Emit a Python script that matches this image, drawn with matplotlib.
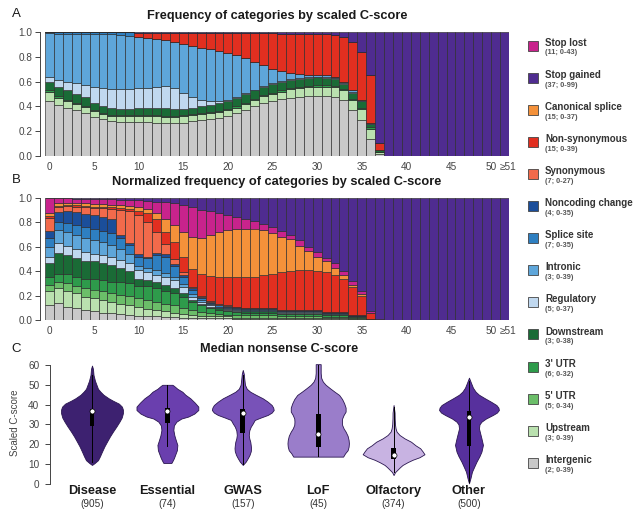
import numpy as np
import matplotlib
matplotlib.use("Agg")
import matplotlib.pyplot as plt
from matplotlib.patches import Rectangle
from matplotlib.transforms import ScaledTranslation

plt.rcParams["font.family"] = ["Liberation Sans", "DejaVu Sans"]

# ---- categories (legend order, top to bottom) ----
categories = ["Stop lost", "Stop gained", "Canonical splice", "Non-synonymous",
              "Synonymous", "Noncoding change", "Splice site", "Intronic",
              "Regulatory", "Downstream", "3' UTR", "5' UTR", "Upstream", "Intergenic"]
category_notes = ["(11; 0-43)", "(37; 0-99)", "(15; 0-37)", "(15; 0-39)", "(7; 0-27)",
                  "(4; 0-35)", "(7; 0-35)", "(3; 0-39)", "(5; 0-37)", "(3; 0-38)",
                  "(6; 0-32)", "(5; 0-34)", "(3; 0-39)", "(2; 0-39)"]
category_colors = ["#c8238c", "#4f2c90", "#f4913a", "#e12f20", "#f26a4b", "#1b4e9a",
                   "#2e7fc1", "#5ea6da", "#c0d8ef", "#1a6b36", "#2e9b4b", "#6bbe69",
                   "#bae1af", "#c9c9c9"]
# bars are stacked from the bottom in this order
stack_order = ["Intergenic", "Upstream", "5' UTR", "3' UTR", "Downstream", "Regulatory",
               "Intronic", "Splice site", "Noncoding change", "Synonymous",
               "Non-synonymous", "Canonical splice", "Stop lost", "Stop gained"]

score_bins = list(range(52))
bin_labels = ["0", "5", "10", "15", "20", "25", "30", "35", "40", "45", "50", "\u226551"]
bin_label_pos = [0, 5, 10, 15, 20, 25, 30, 35, 40, 45, 50, 51]

# ---- A: frequency of categories per scaled C-score bin ----
a_intergenic = [.445, .41, .39, .37, .345, .315, .295, .28, .275, .275,
                .275, .275, .27, .265, .265, .27, .28, .29, .295, .305,
                .32, .345, .37, .40, .425, .445, .46, .47, .475, .48,
                .48, .48, .475, .45, .37, .29, .14, .02,
                0, 0, 0, 0, 0, 0, 0, 0, 0, 0, 0, 0, 0, 0]
a_upstream = [.075, .06, .05, .05, .05, .05, .04, .04, .045, .045,
              .045, .045, .05, .05, .05, .05, .05, .045, .05, .05,
              .05, .045, .05, .05, .055, .055, .06, .07, .075, .075,
              .08, .08, .08, .08, .08, .09, .08, .015,
              0, 0, 0, 0, 0, 0, 0, 0, 0, 0, 0, 0, 0, 0]
a_utr5 = [0] * 52
a_utr3 = [.01, .01, .01, .01, .01, .01, .01, .01, .01, .01,
          .01, .01, .01, .01, .01, .01, .01, .01, .01, .01,
          .01, .01, .01, .01, .01, .01, .01, .01, .01, .01,
          .01, .01, .01, .01, .01, .01, .01, 0,
          0, 0, 0, 0, 0, 0, 0, 0, 0, 0, 0, 0, 0, 0]
a_downstream = [.07, .075, .085, .07, .07, .055, .055, .055, .05, .05,
                .055, .06, .06, .06, .055, .05, .05, .055, .055, .065,
                .065, .07, .07, .07, .07, .07, .07, .065, .065, .065,
                .065, .06, .06, .04, .05, .05, .03, .01,
                0, 0, 0, 0, 0, 0, 0, 0, 0, 0, 0, 0, 0, 0]
a_regulatory = [.035, .055, .065, .09, .10, .125, .145, .155, .16, .16,
                .16, .16, .17, .18, .17, .13, .085, .05, .03, .015,
                .005, .005, .005, .005, .005, .005, .005, .005, .005, .005,
                .005, .005, .005, .005, .005, .005, .002, 0,
                0, 0, 0, 0, 0, 0, 0, 0, 0, 0, 0, 0, 0, 0]
a_intronic = [.355, .375, .385, .395, .41, .43, .435, .44, .435, .43,
              .415, .405, .385, .37, .37, .395, .415, .425, .42, .40,
              .38, .34, .285, .225, .165, .115, .08, .05, .03, .02,
              .015, .015, .01, .015, .015, .005, .003, 0,
              0, 0, 0, 0, 0, 0, 0, 0, 0, 0, 0, 0, 0, 0]
a_splice = [.01, .015, .015, .015, .015, .015, .02, .02, .025, .03,
            0, 0, 0, 0, 0, 0, 0, 0, 0, 0, 0, 0, 0, 0, 0, 0, 0, 0, 0, 0,
            0, 0, 0, 0, 0, 0, 0, 0, 0, 0, 0, 0, 0, 0, 0, 0, 0, 0, 0, 0, 0, 0]
a_noncoding = [0] * 52
a_synonymous = [0] * 52
a_nonsyn = [0, 0, 0, 0, 0, 0, 0, 0, 0, 0,
            .035, .04, .05, .06, .075, .09, .105, .12, .135, .145,
            .16, .175, .20, .23, .26, .29, .30, .315, .325, .325,
            .325, .33, .335, .357, .39, .39, .385, .06,
            0, 0, 0, 0, 0, 0, 0, 0, 0, 0, 0, 0, 0, 0]
a_canonical = [0] * 52
a_stop_lost = [0] * 52
a_stop_gained = [0, 0, 0, 0, 0, 0, 0, 0, 0, 0,
                 .005, .005, .005, .005, .005, .005, .005, .005, .005, .01,
                 .01, .01, .01, .01, .01, .01, .015, .015, .015, .02,
                 .02, .02, .025, .043, .08, .16, .35, .895,
                 1, 1, 1, 1, 1, 1, 1, 1, 1, 1, 1, 1, 1, 1]

# ---- B: normalized frequency of categories per bin ----
b_intergenic = [.12, .14, .11, .10, .085, .07, .06, .055, .05, .04,
                .035, .03, .03, .025, .025, .02, .015, .015, .015, .015,
                .015, .01, .01, .01, .01, .01, .01, .01, .01, .01,
                .01, .008, .008, .008, .005, .005, .002, 0,
                0, 0, 0, 0, 0, 0, 0, 0, 0, 0, 0, 0, 0, 0]
b_upstream = [.115, .12, .13, .12, .105, .11, .105, .095, .085, .08,
              .07, .06, .055, .045, .035, .03, .03, .02, .015, .015,
              .015, .01, .01, .01, .01, .01, .01, .01, .01, .01,
              .01, .007, .007, .007, .005, .005, .002, 0,
              0, 0, 0, 0, 0, 0, 0, 0, 0, 0, 0, 0, 0, 0]
b_utr5 = [.055, .055, .06, .055, .07, .07, .07, .07, .07, .075,
          .075, .075, .065, .065, .06, .05, .035, .03, .025, .02,
          .015, .02, .02, .02, .02, .02, .01, .01, .01, .01,
          .01, .01, .01, .01, .005, .005, .002, 0,
          0, 0, 0, 0, 0, 0, 0, 0, 0, 0, 0, 0, 0, 0]
b_utr3 = [.06, .065, .075, .08, .08, .085, .09, .095, .105, .105,
          .10, .11, .11, .105, .10, .09, .07, .06, .045, .035,
          .03, .025, .02, .02, .02, .02, .02, .02, .02, .02,
          .02, .015, .015, .015, .01, .01, .002, 0,
          0, 0, 0, 0, 0, 0, 0, 0, 0, 0, 0, 0, 0, 0]
b_downstream = [.12, .17, .155, .15, .145, .145, .14, .135, .12, .105,
                .06, .055, .055, .05, .04, .03, .015, .01, .01, .01,
                .01, .01, .01, .01, .01, .01, .01, .01, .01, .01,
                .01, .01, .01, .01, .005, .005, .002, 0,
                0, 0, 0, 0, 0, 0, 0, 0, 0, 0, 0, 0, 0, 0]
b_regulatory = [.05, .08, .075, .075, .075, .065, .065, .07, .06, .06,
                .07, .06, .055, .06, .065, .05, .025, .01, .01, .005,
                .005, .005, .005, .005, .005, .005, .005, .005, .005, .005,
                .005, .003, .003, .003, .002, .002, 0, 0,
                0, 0, 0, 0, 0, 0, 0, 0, 0, 0, 0, 0, 0, 0]
b_intronic = [.075, .105, .115, .115, .115, .11, .11, .095, .095, .08,
              .035, .035, .04, .035, .03, .025, .02, .015, .01, .01,
              .01, .01, .005, .005, .005, .005, .005, .005, .005, .005,
              .005, .003, .003, .003, .002, .002, 0, 0,
              0, 0, 0, 0, 0, 0, 0, 0, 0, 0, 0, 0, 0, 0]
b_splice = [.075, .065, .075, .085, .09, .095, .09, .095, .085, .07,
            .075, .08, .12, .135, .085, .06, .04, .02, .01, .01,
            .01, .01, .01, .01, .01, .01, .005, .005, .005, .005,
            .005, .004, .004, .004, .002, .002, 0, 0,
            0, 0, 0, 0, 0, 0, 0, 0, 0, 0, 0, 0, 0, 0]
b_noncoding = [.06, .085, .10, .105, .105, .11, .115, .115, .03, .015,
               .02, .015, .02, .02, .02, .015, .01, .01, .01, .005,
               .005, .005, .005, .005, .005, .005, .005, .005, .005, .005,
               .005, .003, .003, .003, .002, .002, 0, 0,
               0, 0, 0, 0, 0, 0, 0, 0, 0, 0, 0, 0, 0, 0]
b_synonymous = [.105, .04, .04, .045, .055, .06, .07, .085, .20, .26,
                .32, .28, .17, .08, .04, .02, .01, .005, .005, .005,
                .005, .005, .005, .005, .005, .005, .005, .005, .005, .005,
                .005, .003, .003, .003, .002, .002, 0, 0,
                0, 0, 0, 0, 0, 0, 0, 0, 0, 0, 0, 0, 0, 0]
b_nonsyn = [.015, .01, .005, .01, .01, .01, .015, .015, .02, .02,
            .035, .075, .11, .10, .14, .13, .15, .185, .205, .225,
            .23, .24, .25, .255, .265, .28, .31, .32, .325, .325,
            .315, .324, .304, .274, .23, .16, .045, .003,
            0, 0, 0, 0, 0, 0, 0, 0, 0, 0, 0, 0, 0, 0]
b_canonical = [.03, .02, .02, .02, .02, .02, .02, .02, .02, .025,
               .03, .035, .05, .11, .14, .20, .26, .29, .34, .365,
               .385, .395, .40, .395, .375, .33, .285, .255, .20, .155,
               .12, .09, .06, .03, .02, .01, .005, 0,
               0, 0, 0, 0, 0, 0, 0, 0, 0, 0, 0, 0, 0, 0]
b_stop_lost = [.12, .045, .04, .035, .04, .04, .04, .045, .045, .05,
               .055, .065, .09, .135, .175, .22, .245, .235, .19, .155,
               .125, .10, .08, .06, .045, .05, .05, .04, .045, .035,
               .035, .03, .035, .035, .03, .025, .01, .002,
               0, 0, 0, 0, 0, 0, 0, 0, 0, 0, 0, 0, 0, 0]
b_stop_gained = [0, 0, 0, .005, .005, .01, .01, .01, .015, .015,
                 .02, .025, .03, .035, .045, .06, .075, .095, .11, .125,
                 .14, .155, .17, .19, .215, .24, .27, .30, .345, .40,
                 .445, .49, .535, .595, .68, .765, .93, .995,
                 1, 1, 1, 1, 1, 1, 1, 1, 1, 1, 1, 1, 1, 1]

freq_a = {"Intergenic": a_intergenic, "Upstream": a_upstream, "5' UTR": a_utr5,
          "3' UTR": a_utr3, "Downstream": a_downstream, "Regulatory": a_regulatory,
          "Intronic": a_intronic, "Splice site": a_splice, "Noncoding change": a_noncoding,
          "Synonymous": a_synonymous, "Non-synonymous": a_nonsyn,
          "Canonical splice": a_canonical, "Stop lost": a_stop_lost,
          "Stop gained": a_stop_gained}
freq_b = {"Intergenic": b_intergenic, "Upstream": b_upstream, "5' UTR": b_utr5,
          "3' UTR": b_utr3, "Downstream": b_downstream, "Regulatory": b_regulatory,
          "Intronic": b_intronic, "Splice site": b_splice, "Noncoding change": b_noncoding,
          "Synonymous": b_synonymous, "Non-synonymous": b_nonsyn,
          "Canonical splice": b_canonical, "Stop lost": b_stop_lost,
          "Stop gained": b_stop_gained}

# ---- C: median nonsense C-score per gene set ----
gene_sets = ["Disease", "Essential", "GWAS", "LoF", "Olfactory", "Other"]
gene_counts = ["(905)", "(74)", "(157)", "(45)", "(374)", "(500)"]
violin_colors = ["#3d2170", "#6a3fae", "#7852b8", "#9a7dca", "#c8b3e2", "#57309d"]

# density outline: score levels and relative half-widths
disease_y = [9.6, 10.5, 12, 14, 16.3, 19, 21.3, 24, 26.4, 29, 31.4, 33.5, 35.7, 37.5, 39,
             40.5, 42, 43.2, 45, 46.5, 48, 50, 52, 55, 58, 59.7]
disease_w = [0, 2.5, 6, 8, 10, 12.5, 15, 18, 21, 24.5, 27.5, 29.8, 31, 31, 30,
             27, 21, 16.7, 11.5, 8.5, 6, 4.5, 3, 1.5, 1, 0]
essential_y = [10.6, 11.5, 13, 15, 17, 19.7, 22, 24.5, 27.2, 29.5, 31.4, 33, 34, 35.5,
               37.3, 39, 41, 43.2, 45, 46.5, 48, 49.5, 50]
essential_w = [4, 5, 6.5, 8, 9.5, 10, 8.5, 7, 6, 6.5, 9, 14, 21, 27,
               31, 31, 27.5, 23, 18, 15, 10, 6.5, 5]
gwas_y = [9.6, 11.3, 13, 14.6, 16.5, 18, 19.5, 21.3, 23, 24.7, 27, 28.9, 30.5, 32.3,
          33.5, 34.8, 36, 37.3, 38.5, 39.8, 41.5, 43.2, 45, 46.5, 48, 50, 53, 55.5, 57.5]
gwas_w = [0, 3, 5, 6.7, 8, 8.3, 8, 7.5, 6.5, 6, 6.5, 8, 10, 12,
          18, 25, 29, 31, 30.5, 29, 25, 20, 13, 7.5, 4, 2.2, 1.5, 1, 0]
lof_y = [13.8, 15.5, 17, 18.8, 20.5, 22.2, 24.3, 26.4, 28, 29.8, 31.5, 33, 34.8, 36.5,
         38.5, 40.7, 42.8, 44.9, 46.5, 48.2, 50, 51.6, 53.5, 56, 58.5, 60.4]
lof_w = [25, 27, 29.5, 30.5, 30.8, 30.5, 29.5, 27.5, 25.5, 24, 23.8, 24, 25.5, 27.5,
         27.5, 26, 24, 21, 16.5, 12, 7.5, 4.7, 3, 2.5, 2.5, 2.5]
olfactory_y = [4.5, 6, 7, 8.5, 9.6, 11, 12.2, 13.5, 15, 16.5, 18, 19.5, 21.3, 23, 24.7,
               26.4, 28, 30, 33, 36, 39.8]
olfactory_w = [0, 1.5, 3.5, 6.5, 9, 14, 19, 26, 31, 29, 26.7, 22, 17.5, 11, 6,
               3, 2, 1.4, 1.1, 1, 0]
other_y = [0.3, 3, 6.2, 9, 11.2, 14, 16.3, 19.7, 23, 26, 28, 30, 31.4, 33, 34.8, 36,
           37.3, 38.5, 39.8, 41.5, 43.2, 45, 46.5, 48.5, 51, 53.6]
other_w = [0, 1.5, 3, 5.5, 7.5, 10.5, 12.5, 14, 12.5, 11, 10, 10.5, 12.5, 17, 24, 28,
           30, 29.5, 27.5, 22, 16, 10, 6.7, 4, 2, 0]
violin_y = [disease_y, essential_y, gwas_y, lof_y, olfactory_y, other_y]
violin_w = [disease_w, essential_w, gwas_w, lof_w, olfactory_w, other_w]

box_q1 = [29, 31, 25.5, 18.5, 12.5, 19]
box_q3 = [38, 38.5, 38, 35.5, 18, 37]
box_median = [37, 37, 36, 25, 14.7, 34]
whisker_lo = [11, 19, 10, 14, 6, 1]
whisker_hi = [55, 50, 55, 60, 39, 52]

W, H = 636, 512
fig = plt.figure(figsize=(W / 100, H / 100), dpi=100)


def fig_box(left, top, right, bottom):
    return [left / W, 1 - bottom / H, (right - left) / W, (bottom - top) / H]


tick_color = "#444444"
edge_color = "#2b2b2b"


def stacked_panel(rect, freq, title, letter, title_y, letter_y):
    ax = fig.add_axes(rect)
    bottom = np.zeros(len(score_bins))
    for cat in stack_order:
        vals = np.array(freq[cat], dtype=float)
        color = category_colors[categories.index(cat)]
        ax.bar(score_bins, vals, bottom=bottom, width=1.0, color=color,
               edgecolor=edge_color, linewidth=0.45)
        bottom += vals
    ax.set_xlim(-0.5, 51.5)
    ax.set_ylim(0, 1)
    for s in ["top", "right", "bottom"]:
        ax.spines[s].set_visible(False)
    ax.spines["left"].set_position(("outward", 3.6))
    ax.spines["left"].set_color(tick_color)
    ax.spines["left"].set_linewidth(0.7)
    ax.set_yticks([0, 0.2, 0.4, 0.6, 0.8, 1.0])
    ax.set_yticklabels(["0.0", "0.2", "0.4", "0.6", "0.8", "1.0"])
    ax.tick_params(axis="y", length=3.6, width=0.7, color=tick_color, pad=2,
                   labelsize=7.2, labelcolor=tick_color)
    ax.set_xticks(bin_label_pos)
    ax.set_xticklabels(bin_labels)
    ax.tick_params(axis="x", length=0, pad=4, labelsize=7.2, labelcolor=tick_color)
    labels = ax.get_xticklabels()
    labels[-2].set_transform(labels[-2].get_transform() + ScaledTranslation(-4 / 100, 0, fig.dpi_scale_trans))
    labels[-1].set_transform(labels[-1].get_transform() + ScaledTranslation(4 / 100, 0, fig.dpi_scale_trans))
    fig.text(277 / W, 1 - title_y / H, title, ha="center", va="center",
             fontsize=9.2, fontweight="bold", color="#1a1a1a")
    fig.text(16 / W, 1 - letter_y / H, letter, ha="center", va="center",
             fontsize=9.5, color="#1a1a1a")
    return ax


stacked_panel(fig_box(45, 32, 509, 156), freq_a,
              "Frequency of categories by scaled C-score", "A", 16, 14)
stacked_panel(fig_box(45, 198, 509, 320), freq_b,
              "Normalized frequency of categories by scaled C-score", "B", 182, 180)

# ---- C: violins ----
axc = fig.add_axes(fig_box(50, 361, 510, 484))
axc.set_xlim(0.443, 6.544)
axc.set_ylim(0, 62)
width_scale = 0.41 / 31
for i, name in enumerate(gene_sets):
    xc = i + 1
    ys = np.array(violin_y[i])
    ws = np.array(violin_w[i]) * width_scale
    axc.fill_betweenx(ys, xc - ws, xc + ws, facecolor=violin_colors[i],
                      edgecolor="#2a1650", linewidth=0.6, zorder=2)
    axc.plot([xc, xc], [whisker_lo[i], whisker_hi[i]], color="black", lw=0.7, zorder=3)
    axc.add_patch(Rectangle((xc - 0.032, box_q1[i]), 0.064, box_q3[i] - box_q1[i],
                            facecolor="black", edgecolor="none", zorder=4))
    axc.plot([xc], [box_median[i]], marker="o", ms=3.6, mfc="white", mec="black",
             mew=0.5, zorder=5)
    axc.text(xc, -3.6, name, ha="center", va="center", fontsize=9.2,
             fontweight="bold", color="#1a1a1a", clip_on=False)
    axc.text(xc, -10.3, gene_counts[i], ha="center", va="center", fontsize=7.2,
             color="#333333", clip_on=False)
for s in ["top", "right", "bottom"]:
    axc.spines[s].set_visible(False)
axc.spines["left"].set_bounds(0, 60)
axc.spines["left"].set_color(tick_color)
axc.spines["left"].set_linewidth(0.7)
axc.set_yticks([0, 10, 20, 30, 40, 50, 60])
axc.tick_params(axis="y", length=3.6, width=0.7, color=tick_color, pad=4,
                labelsize=7.2, labelcolor=tick_color)
axc.set_xticks([])
axc.set_ylabel("Scaled C-score", fontsize=7, color=tick_color, labelpad=6)
fig.text(279 / W, 1 - 349 / H, "Median nonsense C-score", ha="center", va="center",
         fontsize=9.2, fontweight="bold", color="#1a1a1a")
fig.text(16 / W, 1 - 349 / H, "C", ha="center", va="center", fontsize=9.5, color="#1a1a1a")

# ---- legend ----
for k, (cat, note, col) in enumerate(zip(categories, category_notes, category_colors)):
    yc = 45.5 + 32.1 * k
    fig.add_artist(Rectangle((527.5 / W, 1 - (yc + 5) / H), 10 / W, 10 / H,
                             transform=fig.transFigure, facecolor=col,
                             edgecolor="#444444", linewidth=0.6))
    fig.text(545 / W, 1 - (yc - 2.8) / H, cat, ha="left", va="center",
             fontsize=7, fontweight="bold", color="#333333")
    fig.text(545 / W, 1 - (yc + 7.5) / H, note, ha="left", va="center",
             fontsize=5.3, fontweight="bold", color="#555555")

fig.savefig("out.png", dpi=100)
